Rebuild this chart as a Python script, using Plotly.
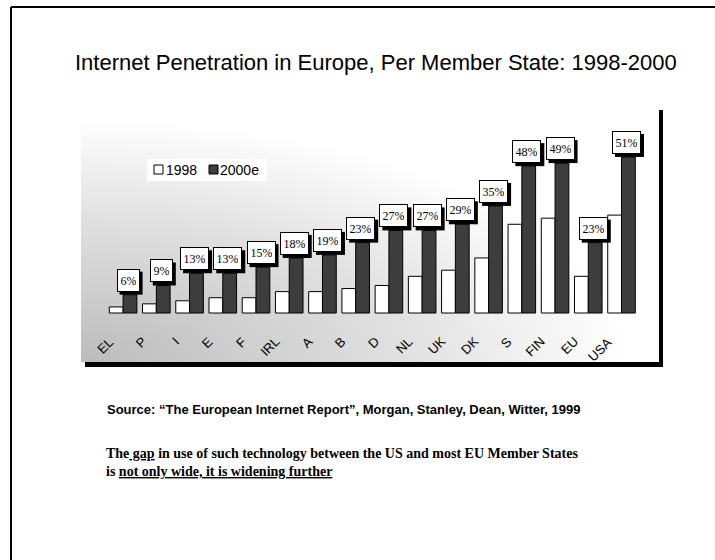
import base64
import plotly.graph_objects as go

# ---------------- data ----------------
countries = ["EL", "P", "I", "E", "F", "IRL", "A", "B", "D", "NL", "UK", "DK", "S", "FIN", "EU", "USA"]
series_names = ["1998", "2000e"]
values_1998 = [2, 3, 4, 5, 5, 7, 7, 8, 9, 12, 14, 18, 29, 31, 12, 32]
values_2000e = [6, 9, 13, 13, 15, 18, 19, 23, 27, 27, 29, 35, 48, 49, 23, 51]
title_text = "Internet Penetration in Europe, Per Member State: 1998-2000"
source_text = "Source: \u201cThe European Internet Report\u201d, Morgan, Stanley, Dean, Witter, 1999"
note_line1 = "<b>The<u> gap</u> in use of such technology between the US and most EU Member States</b>"
note_line2 = "<b>is <u>not only wide, it is widening further</u></b>"

W, H = 715, 560


def px(x):
    return x / W


def py(y):
    return 1 - y / H


# plot box (gradient area) in pixels
BX0, BY0, BX1, BY1 = 81, 106, 659, 362

fig = go.Figure()
fig.add_trace(go.Bar(
    x=list(range(len(countries))), y=values_1998, name=series_names[0],
    marker=dict(color="white", line=dict(color="black", width=1)),
    showlegend=False, hoverinfo="skip",
))
fig.add_trace(go.Bar(
    x=list(range(len(countries))), y=values_2000e, name=series_names[1],
    marker=dict(color="#3d3d3d", line=dict(color="black", width=1)),
    showlegend=False, hoverinfo="skip",
))

annotations = []
shapes = []
BOX_H = 23              # outer height of a value box in pixels
LIFT = 3                # gap between bar top and value box
SH = 3                  # drop shadow offset
for i, v in enumerate(values_2000e):
    xc = i + 0.15
    txt = f"{v}%"
    box_w = 23 if len(txt) == 2 else 29
    # drop shadow of the value box
    shapes.append(dict(type="rect", xref="x", yref="y", xsizemode="pixel", ysizemode="pixel",
                       xanchor=xc, yanchor=v,
                       x0=-box_w / 2 + SH, x1=box_w / 2 + SH,
                       y0=LIFT - SH, y1=LIFT - SH + BOX_H,
                       fillcolor="black", line=dict(width=0), layer="above"))
    annotations.append(dict(x=xc, y=v, xref="x", yref="y", xanchor="center", yanchor="bottom",
                            text=txt, showarrow=False, yshift=LIFT,
                            width=box_w - 8, height=BOX_H - 8, borderpad=3, borderwidth=1,
                            bgcolor="white", bordercolor="black",
                            font=dict(family="Liberation Serif", size=12, color="black")))

# rotated category labels
for i, c in enumerate(countries):
    annotations.append(dict(x=i - 0.12, y=-6, xref="x", yref="y", text=c, textangle=-45,
                            xanchor="right", yanchor="top", showarrow=False,
                            font=dict(family="Liberation Sans", size=13, color="black")))

# title
annotations.append(dict(x=px(376), y=py(62), xref="paper", yref="paper", text=title_text,
                        showarrow=False, xanchor="center", yanchor="middle",
                        font=dict(family="Liberation Sans", size=22, color="black")))
# source
annotations.append(dict(x=px(105), y=py(409), xref="paper", yref="paper", text="<b>" + source_text + "</b>",
                        showarrow=False, xanchor="left", yanchor="middle",
                        font=dict(family="Liberation Sans", size=13, color="black")))
# note lines
annotations.append(dict(x=px(104), y=py(453), xref="paper", yref="paper", text=note_line1,
                        showarrow=False, xanchor="left", yanchor="middle",
                        font=dict(family="Liberation Serif", size=14, color="black")))
annotations.append(dict(x=px(104), y=py(471), xref="paper", yref="paper", text=note_line2,
                        showarrow=False, xanchor="left", yanchor="middle",
                        font=dict(family="Liberation Serif", size=14, color="black")))

# custom legend text
annotations.append(dict(x=px(164), y=py(170), xref="paper", yref="paper", text=series_names[0],
                        showarrow=False, xanchor="left", yanchor="middle",
                        font=dict(family="Liberation Sans", size=14, color="black")))
annotations.append(dict(x=px(218), y=py(170), xref="paper", yref="paper", text=series_names[1],
                        showarrow=False, xanchor="left", yanchor="middle",
                        font=dict(family="Liberation Sans", size=14, color="black")))

shapes += [
    # slide frame
    dict(type="line", xref="paper", yref="paper", x0=px(11), y0=py(7), x1=px(715), y1=py(7),
         line=dict(color="black", width=2)),
    dict(type="line", xref="paper", yref="paper", x0=px(11), y0=py(7), x1=px(11), y1=py(560),
         line=dict(color="black", width=2)),
    # chart drop shadow
    dict(type="rect", xref="paper", yref="paper", x0=px(BX1), y0=py(110), x1=px(BX1 + 4), y1=py(BY1 + 5),
         fillcolor="black", line=dict(width=0), layer="below"),
    dict(type="rect", xref="paper", yref="paper", x0=px(85), y0=py(BY1), x1=px(BX1 + 4), y1=py(BY1 + 5),
         fillcolor="black", line=dict(width=0), layer="below"),
    # legend box
    dict(type="rect", xref="paper", yref="paper", x0=px(147), y0=py(159), x1=px(267), y1=py(181),
         fillcolor="white", line=dict(width=0), layer="below"),
    dict(type="rect", xref="paper", yref="paper", x0=px(154), y0=py(165), x1=px(163), y1=py(174),
         fillcolor="white", line=dict(color="black", width=1)),
    dict(type="rect", xref="paper", yref="paper", x0=px(209), y0=py(165), x1=px(218), y1=py(174),
         fillcolor="#3d3d3d", line=dict(color="black", width=1)),
]

gw, gh = BX1 - BX0, BY1 - BY0
svg = (f'<svg xmlns="http://www.w3.org/2000/svg" width="{gw}" height="{gh}" viewBox="0 0 {gw} {gh}" '
       f'preserveAspectRatio="none"><defs><radialGradient id="g" cx="0" cy="1" r="1" '
       f'gradientUnits="objectBoundingBox"><stop offset="0" stop-color="#bcbcbc"/>'
       f'<stop offset="0.55" stop-color="#e0e0e0"/><stop offset="0.95" stop-color="#ffffff"/>'
       f'</radialGradient></defs><rect width="{gw}" height="{gh}" fill="url(#g)"/></svg>')
src = "data:image/svg+xml;base64," + base64.b64encode(svg.encode()).decode()

fig.update_layout(
    width=W, height=H, autosize=False,
    margin=dict(l=0, r=0, t=0, b=0, pad=0),
    paper_bgcolor="white", plot_bgcolor="rgba(0,0,0,0)",
    barmode="group", bargap=0.17, bargroupgap=0,
    xaxis=dict(domain=[px(BX0), px(BX1)], range=[-1.267, 16.128], showticklabels=False,
               showgrid=False, zeroline=False, showline=False, ticks=""),
    yaxis=dict(domain=[py(BY1), py(BY0)], range=[-16.0, 67.65], visible=False,
               showgrid=False, zeroline=False),
    annotations=annotations,
    shapes=shapes,
    images=[dict(source=src, xref="paper", yref="paper", x=px(BX0), y=py(BY0),
                 sizex=gw / W, sizey=gh / H, xanchor="left", yanchor="top",
                 sizing="stretch", layer="below")],
    showlegend=False,
)

fig.write_html("out.html")
